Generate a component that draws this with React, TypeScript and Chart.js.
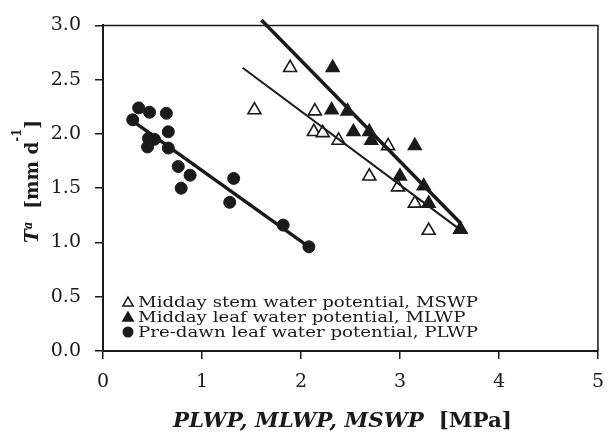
import React, { useEffect, useRef } from 'react';
import { Chart, registerables } from 'chart.js';

Chart.register(...registerables);

// ---- data ----
const xTickValues = [0, 1, 2, 3, 4, 5];
const yTickValues = [0, 0.5, 1, 1.5, 2, 2.5, 3];

const plwpX = [0.30, 0.36, 0.47, 0.64, 0.66, 0.46, 0.52, 0.45, 0.66, 0.76, 0.88, 0.79, 1.32, 1.28, 1.82, 2.08];
const plwpY = [2.13, 2.24, 2.20, 2.19, 2.02, 1.96, 1.95, 1.88, 1.87, 1.70, 1.62, 1.50, 1.59, 1.37, 1.16, 0.96];

const mswpX = [1.89, 1.53, 2.14, 2.13, 2.22, 2.38, 2.88, 2.69, 2.98, 3.15, 3.29, 3.61];
const mswpY = [2.61, 2.22, 2.21, 2.02, 2.01, 1.94, 1.89, 1.61, 1.51, 1.36, 1.11, 1.12];

const mlwpX = [2.32, 2.31, 2.47, 2.53, 2.69, 2.71, 3.15, 3.00, 3.24, 3.29, 3.61];
const mlwpY = [2.61, 2.22, 2.21, 2.02, 2.02, 1.94, 1.89, 1.61, 1.52, 1.36, 1.12];

const plwpFitX = [0.33, 2.08];
const plwpFitY = [2.10, 0.96];
const mswpFitX = [1.41, 3.59];
const mswpFitY = [2.61, 1.13];
const mlwpFitX = [1.60, 3.62];
const mlwpFitY = [3.05, 1.17];

const legendLabels = [
  'Midday stem water potential, MSWP',
  'Midday leaf water potential, MLWP',
  'Pre-dawn leaf water potential, PLWP',
];

const INK = '#1a1a1a';
const FONT = 'DejaVu Serif';

const pts = (xs: number[], ys: number[]) => xs.map((x, i) => ({ x, y: ys[i] }));

type Run = { text: string; font: string; dy: number };

function drawRuns(ctx: CanvasRenderingContext2D, runs: Run[], x: number, y: number, targetWidth: number) {
  let total = 0;
  const widths = runs.map((r) => {
    ctx.font = r.font;
    const w = ctx.measureText(r.text).width;
    total += w;
    return w;
  });
  const sx = targetWidth / total;
  ctx.save();
  ctx.translate(x, y);
  ctx.scale(sx, 1);
  let cx = 0;
  runs.forEach((r, i) => {
    ctx.font = r.font;
    ctx.fillText(r.text, cx, r.dy);
    cx += widths[i];
  });
  ctx.restore();
}

function triangle(ctx: CanvasRenderingContext2D, x: number, y: number, r: number, fill: boolean) {
  ctx.beginPath();
  for (let k = 0; k < 3; k++) {
    const a = (k * 2 * Math.PI) / 3;
    const px = x + Math.sin(a) * r;
    const py = y - Math.cos(a) * r;
    if (k === 0) ctx.moveTo(px, py);
    else ctx.lineTo(px, py);
  }
  ctx.closePath();
  ctx.fillStyle = fill ? INK : '#ffffff';
  ctx.fill();
  ctx.lineWidth = 1.5;
  ctx.strokeStyle = INK;
  ctx.stroke();
}

const decorPlugin = {
  id: 'decor',
  afterDraw(chart: any) {
    const ctx: CanvasRenderingContext2D = chart.ctx;
    const { left, right, top, bottom } = chart.chartArea;
    ctx.save();
    // frame top & right
    ctx.strokeStyle = INK;
    ctx.lineWidth = 1.5;
    ctx.beginPath();
    ctx.moveTo(left, top);
    ctx.lineTo(right, top);
    ctx.lineTo(right, bottom);
    ctx.stroke();

    // legend
    const lx = left + 25;
    const baseY = [306.5, 321.5, 336.5];
    triangle(ctx, lx, baseY[0] - 3.5, 6, false);
    triangle(ctx, lx, baseY[1] - 3.5, 6, true);
    ctx.beginPath();
    ctx.arc(lx, baseY[2] - 4.5, 5.5, 0, Math.PI * 2);
    ctx.fillStyle = INK;
    ctx.fill();

    ctx.fillStyle = INK;
    ctx.textBaseline = 'alphabetic';
    ctx.textAlign = 'left';
    ctx.font = `15px "${FONT}"`;
    const w0 = ctx.measureText(legendLabels[0]).width;
    const s = 340 / w0;
    legendLabels.forEach((t, i) => {
      ctx.font = `15px "${FONT}"`;
      const w = ctx.measureText(t).width * s;
      drawRuns(ctx, [{ text: t, font: `15px "${FONT}"`, dy: 0 }], lx + 10, baseY[i], w);
    });

    // x title
    drawRuns(
      ctx,
      [
        { text: 'PLWP, MLWP, MSWP', font: `italic bold 20px "${FONT}"`, dy: 0 },
        { text: '  [MPa]', font: `bold 20px "${FONT}"`, dy: 0 },
      ],
      173,
      427,
      339
    );

    // y title (rotated)
    ctx.save();
    ctx.translate(38, 243);
    ctx.rotate(-Math.PI / 2);
    drawRuns(
      ctx,
      [
        { text: 'T', font: `italic bold 19px "${FONT}"`, dy: 0 },
        { text: 'a', font: `italic bold 12px "${FONT}"`, dy: -6 },
        { text: '  [mm d', font: `bold 19px "${FONT}"`, dy: 0 },
        { text: '-1', font: `bold 12px "${FONT}"`, dy: -17 },
        { text: ']', font: `bold 19px "${FONT}"`, dy: 0 },
      ],
      0,
      0,
      123
    );
    ctx.restore();
    ctx.restore();
  },
};

export default function App() {
  const ref = useRef<HTMLCanvasElement | null>(null);

  useEffect(() => {
    document.body.style.margin = '0';
    if (!ref.current) return;
    Chart.defaults.font.family = FONT;
    const chart = new Chart(ref.current, {
      type: 'scatter',
      data: {
        datasets: [
          {
            type: 'line',
            label: 'MLWP fit',
            data: pts(mlwpFitX, mlwpFitY),
            borderColor: INK,
            borderWidth: 3.5,
            pointRadius: 0,
            showLine: true,
            fill: false,
            clip: false,
            order: 0,
          } as any,
          {
            type: 'line',
            label: 'MSWP fit',
            data: pts(mswpFitX, mswpFitY),
            borderColor: INK,
            borderWidth: 2,
            pointRadius: 0,
            showLine: true,
            fill: false,
            order: 1,
          } as any,
          {
            type: 'line',
            label: 'PLWP fit',
            data: pts(plwpFitX, plwpFitY),
            borderColor: INK,
            borderWidth: 3.5,
            pointRadius: 0,
            showLine: true,
            fill: false,
            order: 2,
          } as any,
          {
            label: 'MLWP',
            data: pts(mlwpX, mlwpY),
            pointStyle: 'triangle',
            pointRadius: 7.5,
            backgroundColor: INK,
            borderColor: INK,
            borderWidth: 1.5,
            order: 3,
          },
          {
            label: 'MSWP',
            data: pts(mswpX, mswpY),
            pointStyle: 'triangle',
            pointRadius: 7.5,
            backgroundColor: '#ffffff',
            borderColor: INK,
            borderWidth: 1.6,
            order: 4,
          },
          {
            label: 'PLWP',
            data: pts(plwpX, plwpY),
            pointStyle: 'circle',
            pointRadius: 6,
            backgroundColor: INK,
            borderColor: INK,
            borderWidth: 1,
            order: 5,
          },
        ],
      },
      options: {
        responsive: false,
        animation: false,
        layout: { padding: { left: 0, right: 9, top: 23, bottom: 0 } },
        plugins: {
          legend: { display: false },
          tooltip: { enabled: false },
        },
        scales: {
          x: {
            type: 'linear',
            min: 0,
            max: 5,
            afterBuildTicks: (s: any) => {
              s.ticks = xTickValues.map((v) => ({ value: v }));
            },
            afterFit: (s: any) => {
              s.height = 82;
            },
            grid: {
              drawOnChartArea: false,
              drawTicks: true,
              tickLength: 8,
              color: INK,
              lineWidth: 1.5,
            },
            border: { color: INK, width: 2 },
            ticks: {
              font: { family: FONT, size: 19 },
              color: INK,
              padding: 12,
              maxRotation: 0,
              callback: (v: any) => String(v),
            },
          },
          y: {
            type: 'linear',
            min: 0,
            max: 3,
            afterBuildTicks: (s: any) => {
              s.ticks = yTickValues.map((v) => ({ value: v }));
            },
            afterFit: (s: any) => {
              s.width = 103;
            },
            grid: {
              drawOnChartArea: false,
              drawTicks: true,
              tickLength: 8,
              color: INK,
              lineWidth: 1.5,
            },
            border: { color: INK, width: 2 },
            ticks: {
              font: { family: FONT, size: 19 },
              color: INK,
              padding: 14,
              callback: (v: any) => Number(v).toFixed(1),
            },
          },
        },
      },
      plugins: [decorPlugin],
    });
    return () => chart.destroy();
  }, []);

  return (
    <div style={{ width: 616, height: 433 }}>
      <canvas ref={ref} width={616} height={433} style={{ display: 'block' }} />
    </div>
  );
}
